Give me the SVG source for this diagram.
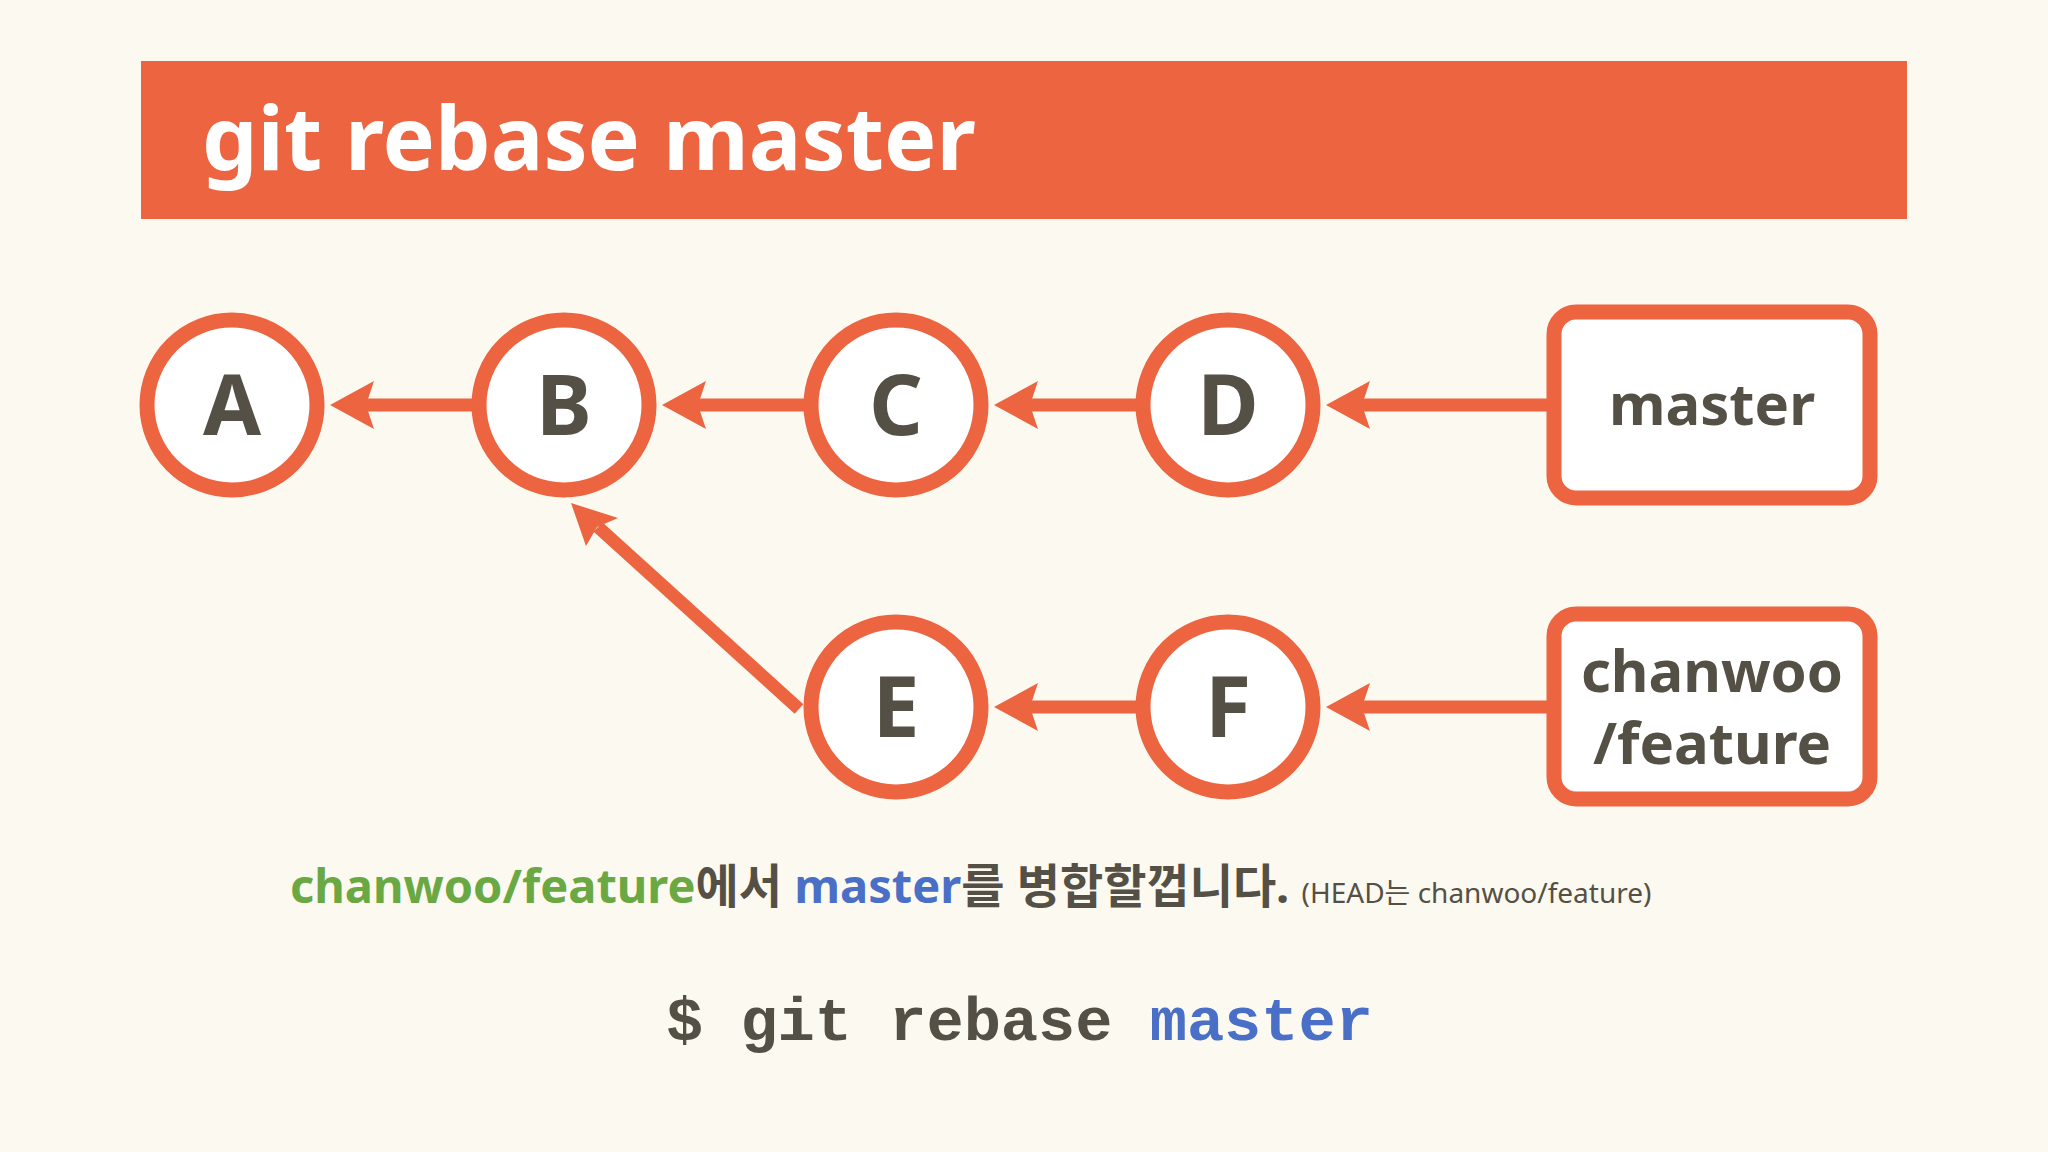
<svg xmlns="http://www.w3.org/2000/svg" width="2048" height="1152" viewBox="0 0 2048 1152">
<defs>
<style>
.n{fill:#fff;stroke:#ec6440;stroke-width:15}
.t{font-family:"Noto Sans","Noto Sans CJK KR",sans-serif;font-weight:bold;fill:#555045;text-anchor:middle}
.l{stroke:#ec6440;stroke-width:13;fill:none}
</style>
<marker id="ah" markerWidth="10" markerHeight="10" refX="9" refY="5" orient="auto" markerUnits="userSpaceOnUse" viewBox="0 0 10 10" style="overflow:visible">
</marker>
</defs>
<rect width="2048" height="1152" fill="#fcf9f0"/>
<rect x="141" y="61" width="1766" height="158" fill="#ec6440"/>
<text x="202" y="170" font-family="Noto Sans,Noto Sans CJK KR,sans-serif" font-weight="bold" font-size="88" fill="#fff">git rebase master</text>
<g id="connectors" fill="#ec6440">
<line class="l" x1="1554" y1="405" x2="1360" y2="405"/><polygon points="1326,405 1370,381 1362,405 1370,429"/>
<line class="l" x1="1140" y1="405" x2="1028" y2="405"/><polygon points="994,405 1038,381 1030,405 1038,429"/>
<line class="l" x1="808" y1="405" x2="696" y2="405"/><polygon points="662,405 706,381 698,405 706,429"/>
<line class="l" x1="476" y1="405" x2="364" y2="405"/><polygon points="330,405 374,381 366,405 374,429"/>
<line class="l" x1="1554" y1="707" x2="1360" y2="707"/><polygon points="1326,707 1370,683 1362,707 1370,731"/>
<line class="l" x1="1140" y1="707" x2="1028" y2="707"/><polygon points="994,707 1038,683 1030,707 1038,731"/>
<line class="l" x1="799" y1="709" x2="598" y2="527"/><polygon points="571,503 618,518 597,527 586,546"/>
</g>
<g id="A"><circle class="n" cx="232" cy="405" r="85"/><text class="t" x="232" y="435" font-size="84">A</text></g>
<g id="B"><circle class="n" cx="564" cy="405" r="85"/><text class="t" x="564" y="435" font-size="84">B</text></g>
<g id="C"><circle class="n" cx="896" cy="405" r="85"/><text class="t" x="896" y="435" font-size="84">C</text></g>
<g id="D"><circle class="n" cx="1228" cy="405" r="85"/><text class="t" x="1228" y="435" font-size="84">D</text></g>
<g id="E"><circle class="n" cx="896" cy="707" r="85"/><text class="t" x="896" y="737" font-size="84">E</text></g>
<g id="F"><circle class="n" cx="1228" cy="707" r="85"/><text class="t" x="1228" y="737" font-size="84">F</text></g>
<g id="master"><rect class="n" x="1554" y="312" width="316" height="186" rx="22"/><text class="t" x="1712" y="425" font-size="58">master</text></g>
<g id="feature"><rect class="n" x="1554" y="614" width="316" height="185" rx="22"/><text class="t" x="1712" y="692" font-size="58">chanwoo</text><text class="t" x="1712" y="764" font-size="58">/feature</text></g>
<text x="290" y="903" font-family="Noto Sans,Noto Sans CJK KR,sans-serif" font-weight="bold" font-size="47" fill="#555045"><tspan fill="#6aa843">chanwoo/feature</tspan>에서 <tspan fill="#4a6fc7">master</tspan>를 병합할껍니다. <tspan font-weight="normal" font-size="28">(HEAD는 chanwoo/feature)</tspan></text>
<text x="666" y="1040" font-family="Liberation Mono,DejaVu Sans Mono,monospace" font-weight="bold" font-size="62" fill="#555045">$ git rebase <tspan fill="#4a6fc7">master</tspan></text>
</svg>
